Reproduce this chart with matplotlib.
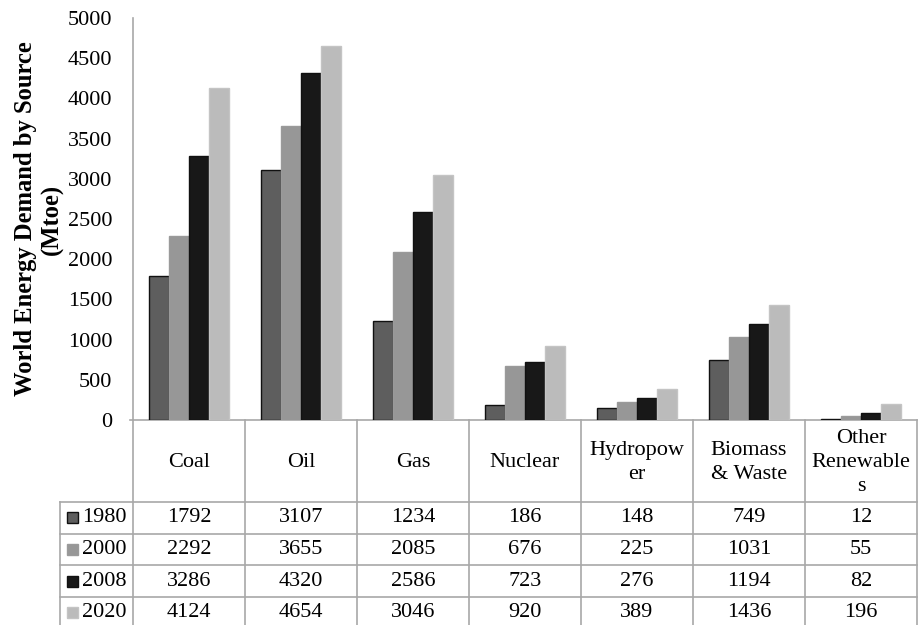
import matplotlib
matplotlib.use("Agg")
import matplotlib.pyplot as plt
from matplotlib.patches import Rectangle
import numpy as np

# ---------------- data ----------------
categories = ["Coal", "Oil", "Gas", "Nuclear", "Hydropow\ner", "Biomass\n& Waste", "Other\nRenewable\ns"]
years = ["1980", "2000", "2008", "2020"]
v1980 = [1792, 3107, 1234, 186, 148, 749, 12]
v2000 = [2292, 3655, 2085, 676, 225, 1031, 55]
v2008 = [3286, 4320, 2586, 723, 276, 1194, 82]
v2020 = [4124, 4654, 3046, 920, 389, 1436, 196]
yticks = [0, 500, 1000, 1500, 2000, 2500, 3000, 3500, 4000, 4500, 5000]
ylabel = "World Energy Demand by Source\n(Mtoe)"

series = [v1980, v2000, v2008, v2020]
face_colors = ["#5e5e5e", "#979797", "#181818", "#bbbbbb"]
edge_colors = ["#111111", "#9a9a9a", "#111111", "#c4c4c4"]
grid_color = "#a8a8a8"

plt.rcParams['font.family'] = ['Liberation Serif', 'DejaVu Serif']

W, H = 920, 625
fig = plt.figure(figsize=(W / 100, H / 100), dpi=100)

# main plot area (pixel layout)
L, R, B, T = 133, 917, 420, 18
ax = fig.add_axes([L / W, 1 - B / H, (R - L) / W, (B - T) / H])

n = len(categories)
x = np.arange(n)
w = 0.18
for i, vals in enumerate(series):
    ax.bar(x + (i - 1.5) * w, vals, w, color=face_colors[i],
           edgecolor=edge_colors[i], linewidth=1.0, zorder=3)

ax.set_xlim(-0.5, n - 0.5)
ax.set_ylim(0, 5000)
ax.set_yticks(yticks)
ax.set_yticklabels([str(t) for t in yticks], fontsize=16)
ax.set_xticks([])
ax.tick_params(axis='y', length=0, pad=15)
for s in ["top", "right", "bottom"]:
    ax.spines[s].set_visible(False)
ax.spines["left"].set_color(grid_color)
ax.spines["left"].set_linewidth(1.2)
ax.patch.set_alpha(0)

fig.text(39 / W, 1 - 219 / H, ylabel, rotation=90, ha="center", va="center",
         multialignment="center", fontsize=17.7, fontweight="bold", linespacing=1.2)

# ---------------- data table below the plot ----------------
ov = fig.add_axes([0, 0, 1, 1], zorder=-1)
ov.set_xlim(0, W)
ov.set_ylim(H, 0)
ov.axis("off")

colw = (R - L) / n
head_bot = 502
row_h = 31.6
label_left = 60
nrows = len(years)
table_bot = head_bot + nrows * row_h

lw = 1.2
# horizontal lines
ov.plot([L - 3, R], [B, B], color=grid_color, lw=lw)
for r in range(nrows + 1):
    yy = head_bot + r * row_h
    ov.plot([label_left, R], [yy, yy], color=grid_color, lw=lw)
# vertical lines
for c in range(n + 1):
    xx = L + c * colw
    ov.plot([xx, xx], [B, table_bot], color=grid_color, lw=lw)
ov.plot([label_left, label_left], [head_bot, table_bot], color=grid_color, lw=lw)

# header
for c, name in enumerate(categories):
    ov.text(L + (c + 0.5) * colw, (B + head_bot) / 2 + 1.5, name, ha="center", va="center",
            fontsize=16, linespacing=1.38)

# rows
for r, (yr, vals) in enumerate(zip(years, series)):
    yc = head_bot + (r + 0.5) * row_h
    ov.add_patch(Rectangle((67, yc - 5.5), 11, 11, facecolor=face_colors[r],
                           edgecolor=edge_colors[r], lw=1.0))
    ov.text(82, yc, yr, ha="left", va="center", fontsize=16)
    for c, v in enumerate(vals):
        ov.text(L + (c + 0.5) * colw, yc, str(v), ha="center", va="center", fontsize=16)

fig.savefig("out.png", dpi=100)
